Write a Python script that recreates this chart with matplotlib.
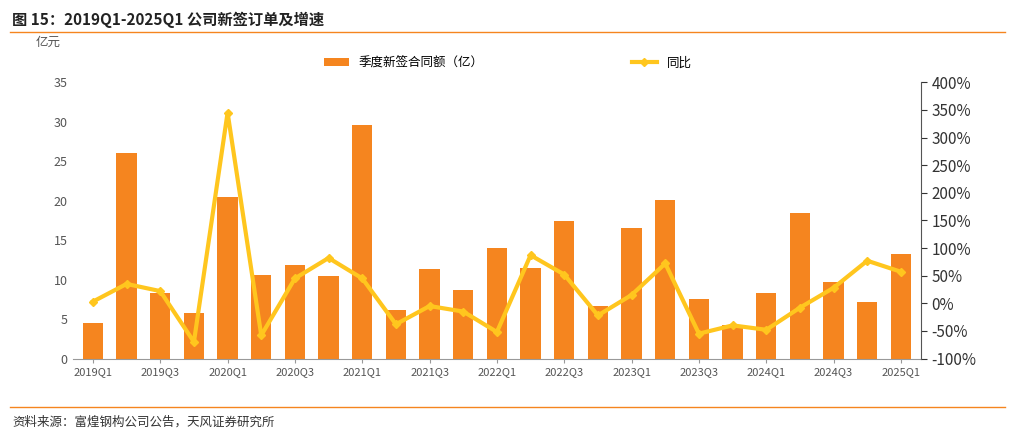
import matplotlib
matplotlib.use("Agg")
import matplotlib.pyplot as plt
from matplotlib.ticker import FuncFormatter

plt.rcParams['font.family'] = ['Noto Sans CJK SC', 'DejaVu Sans']

quarters = [f"{y}Q{q}" for y in range(2019, 2025) for q in range(1, 5)] + ["2025Q1"]
amount = [4.5, 26.0, 8.3, 5.8, 20.5, 10.6, 11.9, 10.4, 29.6, 6.2, 11.3, 8.7,
          14.0, 11.5, 17.4, 6.6, 16.5, 20.1, 7.5, 4.2, 8.3, 18.4, 9.7, 7.2, 13.3]
yoy = [3, 35, 22, -70, 345, -58, 45, 82, 45, -38, -5, -15,
       -52, 87, 52, -22, 15, 72, -55, -40, -48, -8, 28, 77, 57]

fig = plt.figure(figsize=(10.1, 4.33), dpi=100)
ax = fig.add_axes([0.072, 0.172, 0.84, 0.638])
x = list(range(len(quarters)))
ax.bar(x, amount, width=0.6, color='#F5851F', label='季度新签合同额（亿）')
ax.set_ylim(0, 35)
ax.set_yticks(range(0, 36, 5))
ax.set_xlim(-0.6, len(x) - 0.4)
ax.set_xticks(x[::2])
ax.set_xticklabels(quarters[::2], fontsize=8, color='#555555')
for s in ['top', 'right', 'left']:
    ax.spines[s].set_visible(False)
ax.spines['bottom'].set_color('#999999')
ax.tick_params(axis='y', length=0, labelsize=9, colors='#555555')
ax.tick_params(axis='x', length=3, colors='#999999', labelcolor='#555555')

ax2 = ax.twinx()
ax2.plot(x, yoy, color='#FFC61E', lw=3, marker='D', ms=4, label='同比')
ax2.set_ylim(-100, 400)
ax2.set_yticks(range(-100, 401, 50))
ax2.yaxis.set_major_formatter(FuncFormatter(lambda v, p: f"{int(v)}%"))
for s in ['top', 'left', 'bottom']:
    ax2.spines[s].set_visible(False)
ax2.spines['right'].set_color('#555555')
ax2.tick_params(axis='y', labelsize=11, colors='#333333', length=4)

h1, l1 = ax.get_legend_handles_labels()
h2, l2 = ax2.get_legend_handles_labels()
fig.legend(h1, l1, loc='center', bbox_to_anchor=(0.4, 0.855), frameon=False, fontsize=9)
fig.legend(h2, l2, loc='center', bbox_to_anchor=(0.655, 0.855), frameon=False, fontsize=9)

fig.text(0.035, 0.895, '亿元', fontsize=9, color='#555555')
fig.text(0.012, 0.955, '图 15：2019Q1-2025Q1 公司新签订单及增速', fontsize=11, fontweight='bold', color='#222222', va='center')
fig.add_artist(plt.Line2D([0.01, 0.995], [0.925, 0.925], color='#F5851F', lw=1))
fig.add_artist(plt.Line2D([0.01, 0.995], [0.06, 0.06], color='#F5851F', lw=1))
fig.text(0.012, 0.025, '资料来源：富煌钢构公司公告，天风证券研究所', fontsize=9, color='#333333', va='center')
fig.savefig('out.png', dpi=100)
